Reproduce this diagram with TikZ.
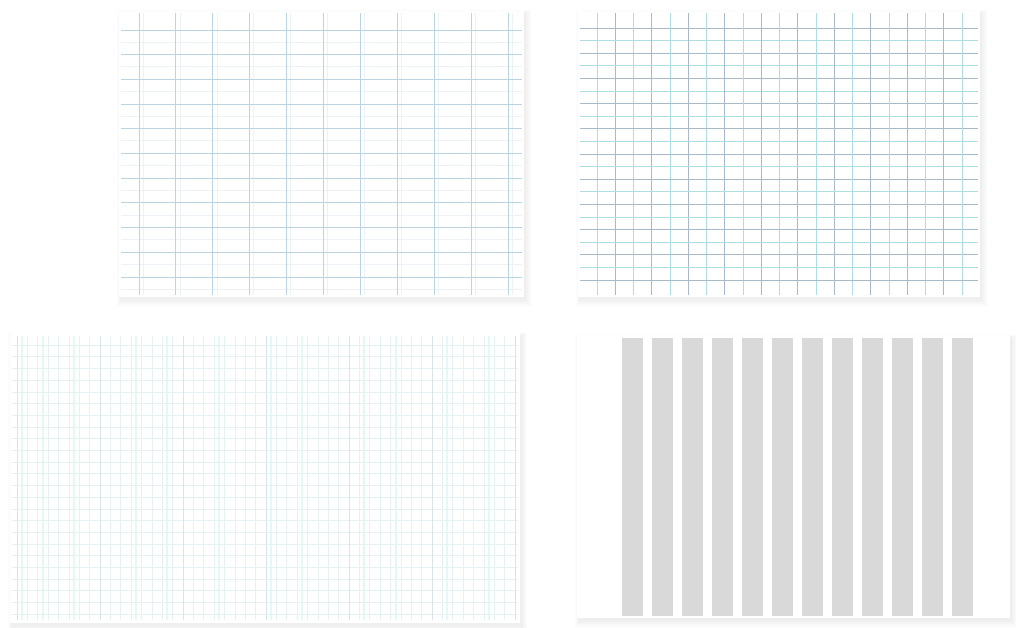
\documentclass[tikz,border=0pt]{standalone}
\begin{document}
\begin{tikzpicture}[x=1pt,y=-1pt,
  paper/.style={fill=white},
  gA/.style={draw={rgb,255:red,186;green,212;blue,226},line width=0.9pt},
  gAm/.style={draw={rgb,255:red,236;green,242;blue,246},line width=0.6pt},
  gBt/.style={draw={rgb,255:red,175;green,222;blue,226},line width=0.8pt},
  gBg/.style={draw={rgb,255:red,168;green,186;blue,200},line width=0.8pt},
  gC/.style={draw={rgb,255:red,230;green,241;blue,243},line width=0.6pt},
  gCm/.style={draw={rgb,255:red,215;green,228;blue,233},line width=0.8pt},
  gCc/.style={draw={rgb,255:red,228;green,249;blue,245},line width=2pt},
  stripe/.style={fill={rgb,255:red,217;green,217;blue,217}}]
\useasboundingbox (0,0) rectangle (1016,628);
\fill[white] (0,0) rectangle (1016,628);
\newcommand{\pshadow}[4]{%
  \foreach \s in {1,...,8}{
    \fill[black,opacity=0.009] ({#1-0.5*\s+2},{#2-0.5*\s+3}) rectangle ({#3+0.8*\s+1},{#4+\s+2});
  }}
% shadows
\pshadow{119}{11}{524}{297}
\pshadow{578}{11}{980}{297}
\pshadow{10}{333}{520}{623}
\pshadow{577}{335}{1010}{618}
% Panel 1
\fill[paper] (119,11) rectangle (524,297);
\foreach \k in {0,...,10}{
  \draw[gAm] ({139+36.9*\k+4},13) -- ({139+36.9*\k+4},295);
  \draw[gAm] (121,{30+24.7*\k+12}) -- (522,{30+24.7*\k+12});
}
\foreach \k in {0,...,10}{
  \draw[gA] ({139+36.9*\k},13) -- ({139+36.9*\k},295);
  \draw[gA] (121,{30+24.7*\k}) -- (522,{30+24.7*\k});
}
% Panel 2
\fill[paper] (578,11) rectangle (980,297);
\foreach \k in {0,...,20}{
  \pgfmathtruncatemacro{\m}{mod(\k,2)}
  \ifnum\m=0
    \draw[gBt] ({597+18.25*\k},13) -- ({597+18.25*\k},295);
    \draw[gBg] (580,{28+12.6*\k}) -- (978,{28+12.6*\k});
  \else
    \draw[gBg] ({597+18.25*\k},13) -- ({597+18.25*\k},295);
    \draw[gBt] (580,{28+12.6*\k}) -- (978,{28+12.6*\k});
  \fi
}
% Panel 3
\fill[paper] (10,333) rectangle (520,623);
\foreach \k in {0,2,5,11,14,19,24,27,33,36,41,45}{
  \draw[gCc] ({17+10.375*\k+5},336) -- ({17+10.375*\k+5},620);
}
\foreach \k in {0,...,48}{
  \draw[gC] ({17+10.375*\k},336) -- ({17+10.375*\k},620);
}
\foreach \k in {0,...,23}{
  \draw[gC] (12,{345+11.7*\k}) -- (518,{345+11.7*\k});
}
\foreach \k in {0,...,6}{
  \draw[gCm] ({17+83*\k},336) -- ({17+83*\k},620);
}
% Panel 4
\fill[paper] (577,335) rectangle (1010,618);
\foreach \k in {0,...,11}{
  \fill[stripe] ({622+30*\k},338) rectangle ({643+30*\k},616);
}
\end{tikzpicture}
\end{document}
